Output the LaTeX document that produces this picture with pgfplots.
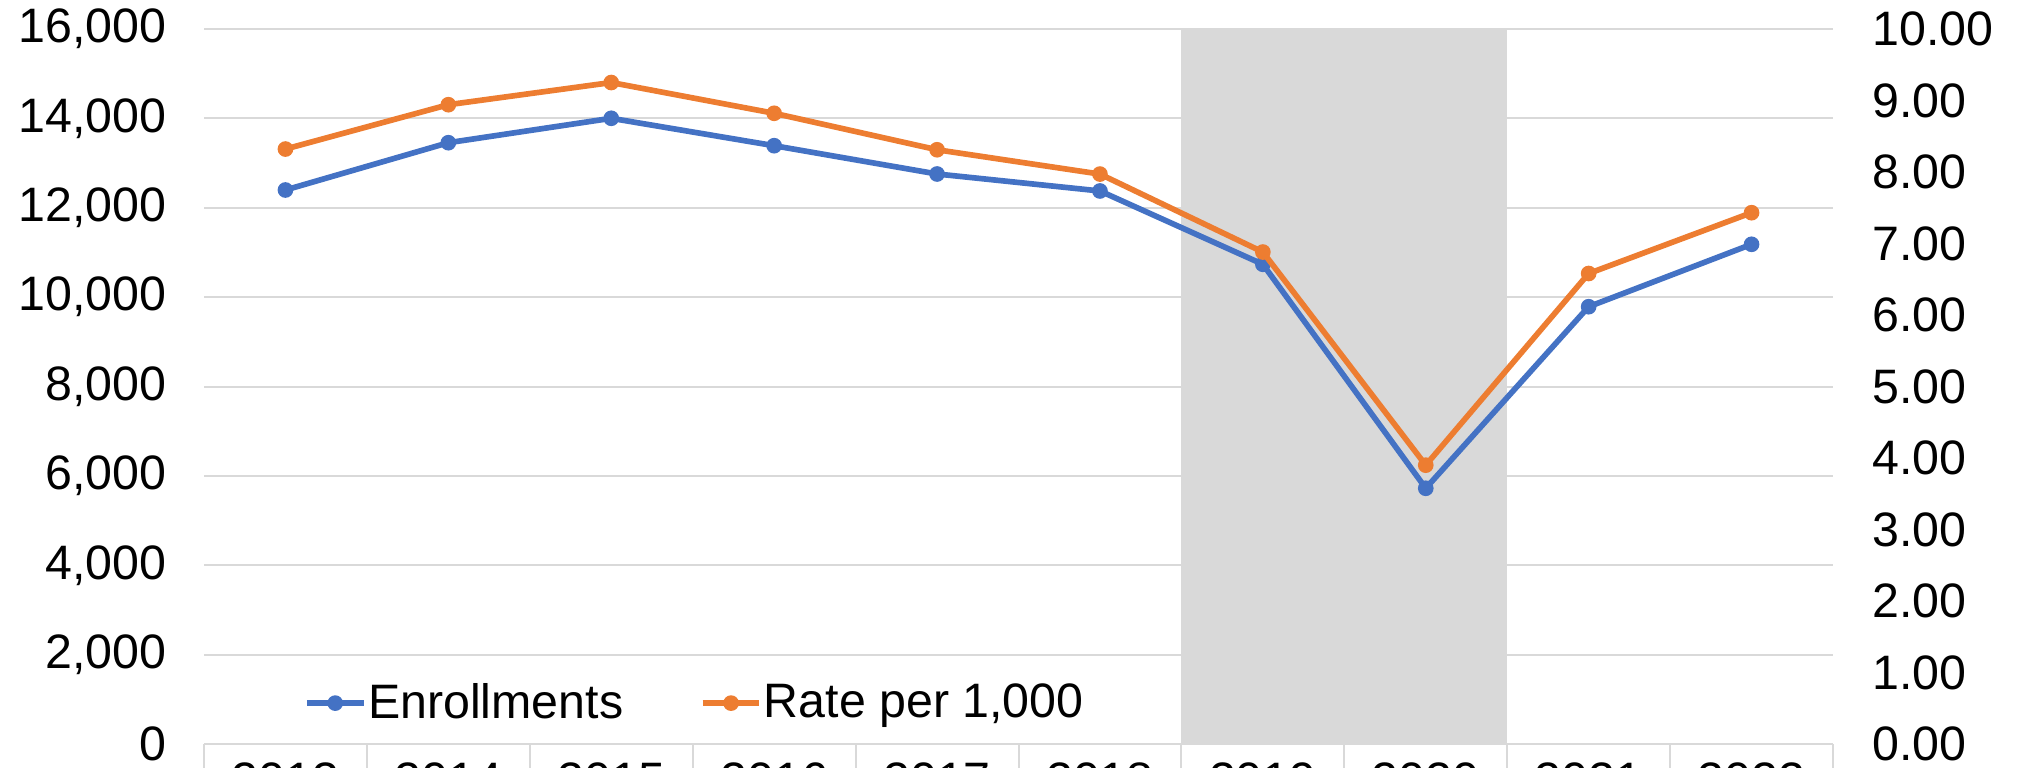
\documentclass[border=0pt]{standalone}
\usepackage{fontspec}
\setmainfont{Liberation Sans}
\usepackage{pgfplots}
\pgfplotsset{compat=1.18}
\definecolor{eblue}{HTML}{4472C4}
\definecolor{rorange}{HTML}{ED7D31}
\definecolor{lgray}{HTML}{D9D9D9}
\newcommand{\chartfont}{\fontsize{14.5pt}{17pt}\selectfont}
\begin{document}
\begin{tikzpicture}
\pgfplotsset{
  common/.style={
    scale only axis, width=488.7pt, height=214.56pt,
    at={(0,0)}, anchor=south west,
    xmin=-0.5, xmax=9.5,
    /pgf/number format/assume math mode=true,
    ticklabel style={font=\chartfont},
  },
  series/.style={line width=1.7pt, mark=*, mark size=2.1pt, mark options={line width=0.5pt}},
}
\begin{axis}[common,
  ymin=0, ymax=16000, ytick={0,2000,...,16000},
  scaled y ticks=false,
  /pgf/number format/1000 sep={,},
  axis x line*=bottom, axis y line*=left,
  y axis line style={draw=none},
  x axis line style={draw=lgray, line width=0.8pt},
  ytick style={draw=none},
  xtick={-0.5,0.5,...,9.5},
  x tick label as interval,
  xticklabels={2013,2014,2015,2016,2017,2018,2019,2020,2021,2022},
  xtick style={draw=lgray, line width=0.6pt},
  tick align=outside, major tick length=12pt,
  ymajorgrids, grid style={draw=lgray, line width=0.6pt},
  yticklabel style={xshift=4.2pt},
  xticklabel style={yshift=10pt},
]
\addplot[fill=lgray, draw=none, forget plot] coordinates {(5.5,16000)(7.5,16000)} \closedcycle;
\addplot[eblue, series] table {
x y
0 12396
1 13454
2 14000
3 13387
4 12754
5 12374
6 10734
7 5723
8 9785
9 11181
};
\end{axis}
\begin{axis}[common,
  ymin=0, ymax=10, ytick={0,1,...,10},
  axis y line*=right, axis x line=none,
  y axis line style={draw=none}, ytick style={draw=none},
  /pgf/number format/fixed, /pgf/number format/fixed zerofill, /pgf/number format/precision=2,
  yticklabel style={xshift=8.3pt},
  legend columns=2,
  legend style={draw=none, fill=none, inner xsep=0pt, at={(0.061,0.0573)}, anchor=west, font=\chartfont, nodes={inner sep=0.5pt}, /tikz/every even column/.append style={column sep=22.5pt}},
  legend image code/.code={\draw[mark repeat=2, mark phase=2, #1] plot coordinates {(0pt,0pt)(8.5pt,0pt)(17pt,0pt)};},
]
\addlegendimage{eblue, series}
\addlegendentry{Enrollments}
\addplot[rorange, series] table {
x y
0 8.32
1 8.94
2 9.25
3 8.82
4 8.31
5 7.97
6 6.88
7 3.90
8 6.58
9 7.43
};
\addlegendentry{Rate per 1,000}
\end{axis}
\pgfresetboundingbox
\path[use as bounding box] (-61.2pt,-6.87pt) rectangle (545.1pt,223.23pt);
\end{tikzpicture}
\end{document}
